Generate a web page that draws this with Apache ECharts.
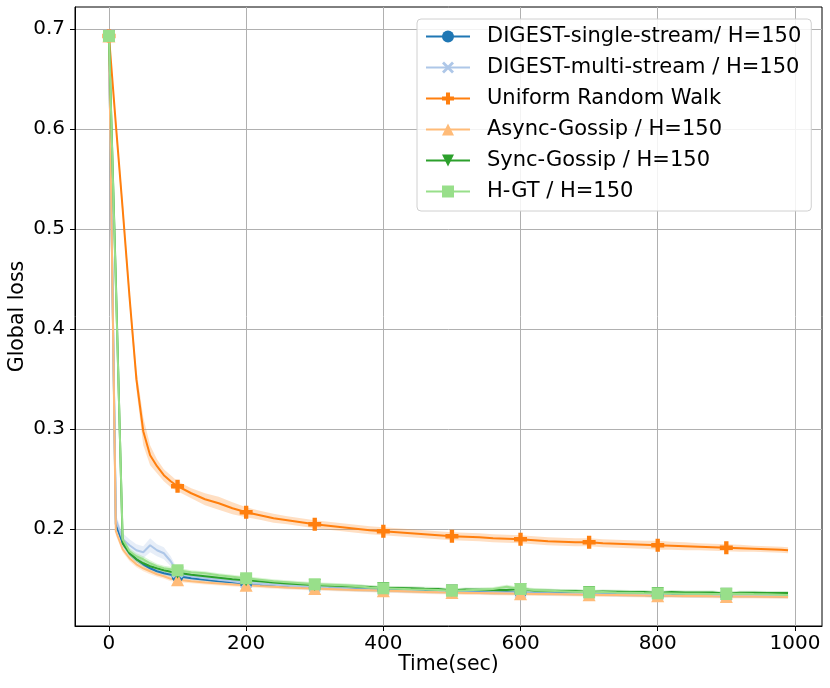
<!DOCTYPE html>
<html>
<head>
<meta charset="utf-8">
<script src="https://cdn.jsdelivr.net/npm/echarts@6/dist/echarts.min.js"></script>
<style>
  html, body { margin: 0; padding: 0; background: #fff; }
  #chart { width: 830px; height: 688px; }
</style>
</head>
<body>
<div id="chart"></div>
<script>
// 时间轴 (sec)
const times = [0, 10, 20, 30, 40, 50, 60, 70, 80, 90, 100,
  120, 140, 160, 180, 200, 220, 240, 260, 280, 300,
  320, 340, 360, 380, 400, 420, 440, 460, 480, 500,
  520, 540, 560, 580, 600, 620, 640, 660, 680, 700,
  720, 740, 760, 780, 800, 820, 840, 860, 880, 900,
  920, 940, 960, 980, 990];

const singleStream = [0.693, 0.205, 0.186, 0.176, 0.170, 0.165, 0.161, 0.158, 0.156, 0.1545, 0.153,
  0.151, 0.1495, 0.148, 0.147, 0.1455, 0.1445, 0.1435, 0.1425, 0.142, 0.1415,
  0.141, 0.1405, 0.140, 0.1396, 0.1392, 0.139, 0.1386, 0.1383, 0.138, 0.1378,
  0.1375, 0.1372, 0.1365, 0.1368, 0.1366, 0.1362, 0.1358, 0.136, 0.1356, 0.1355,
  0.1352, 0.1348, 0.1346, 0.1344, 0.1338, 0.1342, 0.1337, 0.1335, 0.1338, 0.1334,
  0.1333, 0.1334, 0.1332, 0.1331, 0.133];

const multiStream = [0.693, 0.210, 0.190, 0.184, 0.179, 0.177, 0.184, 0.179, 0.176, 0.168, 0.157,
  0.153, 0.151, 0.1495, 0.148, 0.146, 0.1455, 0.1445, 0.1435, 0.1425, 0.142,
  0.1412, 0.1405, 0.1398, 0.1393, 0.139, 0.1386, 0.1382, 0.1378, 0.1375, 0.1372,
  0.137, 0.1368, 0.1366, 0.1364, 0.1362, 0.136, 0.1358, 0.1356, 0.1354, 0.1352,
  0.135, 0.1348, 0.1346, 0.1344, 0.1342, 0.134, 0.1339, 0.1338, 0.1337, 0.1336,
  0.1335, 0.1334, 0.1333, 0.1332, 0.1331];

const randomWalk = [0.693, 0.605, 0.520, 0.432, 0.350, 0.298, 0.274, 0.263, 0.254, 0.248, 0.243,
  0.236, 0.230, 0.226, 0.221, 0.217, 0.214, 0.211, 0.209, 0.207, 0.205,
  0.2035, 0.202, 0.2005, 0.199, 0.198, 0.197, 0.196, 0.195, 0.194, 0.193,
  0.1925, 0.192, 0.191, 0.1905, 0.190, 0.189, 0.188, 0.1875, 0.187, 0.187,
  0.186, 0.1855, 0.185, 0.1845, 0.184, 0.1835, 0.183, 0.1825, 0.182, 0.1815,
  0.181, 0.1805, 0.180, 0.1795, 0.179];

const asyncGossip = [0.693, 0.198, 0.180, 0.171, 0.165, 0.161, 0.158, 0.155, 0.153, 0.1505, 0.1495,
  0.148, 0.1468, 0.1458, 0.1448, 0.144, 0.1432, 0.1425, 0.1418, 0.1412, 0.1408,
  0.1403, 0.1398, 0.1394, 0.139, 0.1386, 0.1382, 0.1378, 0.1374, 0.137, 0.1367,
  0.1364, 0.1362, 0.136, 0.1358, 0.1356, 0.1354, 0.1352, 0.135, 0.1348, 0.1346,
  0.1344, 0.1342, 0.134, 0.1338, 0.1336, 0.1335, 0.1333, 0.1332, 0.133, 0.1329,
  0.1328, 0.1327, 0.1326, 0.1325, 0.1324];

const syncGossip = [0.693, 0.450, 0.186, 0.176, 0.170, 0.166, 0.163, 0.161, 0.159, 0.1575, 0.1565,
  0.1545, 0.153, 0.1515, 0.150, 0.149, 0.148, 0.1468, 0.1458, 0.145, 0.1443,
  0.1437, 0.1432, 0.1427, 0.1422, 0.1412, 0.1413, 0.141, 0.1405, 0.1402, 0.1388,
  0.1398, 0.1396, 0.1394, 0.1392, 0.1402, 0.1388, 0.1386, 0.1384, 0.1382, 0.1372,
  0.1378, 0.1376, 0.1374, 0.1372, 0.1363, 0.1372, 0.1368, 0.1368, 0.1367, 0.1356,
  0.1366, 0.1365, 0.1364, 0.1364, 0.1363];

const hgt = [0.693, 0.445, 0.190, 0.178, 0.173, 0.170, 0.166, 0.163, 0.161, 0.160, 0.159,
  0.157, 0.156, 0.154, 0.1525, 0.151, 0.1495, 0.148, 0.147, 0.146, 0.145,
  0.1445, 0.144, 0.1432, 0.1418, 0.141, 0.1405, 0.140, 0.1398, 0.1392, 0.1386,
  0.139, 0.1395, 0.1402, 0.1425, 0.1403, 0.1392, 0.1385, 0.138, 0.1375, 0.137,
  0.1372, 0.1368, 0.1365, 0.1362, 0.136, 0.1358, 0.1356, 0.1355, 0.1354, 0.1353,
  0.1355, 0.1352, 0.135, 0.1346, 0.1343];

// 阴影带的半宽 (std)
const randomWalkSpread = [0.001, 0.006, 0.008, 0.008, 0.010, 0.014, 0.010, 0.007, 0.006, 0.006, 0.005,
  0.005, 0.006, 0.0065, 0.006, 0.005, 0.0045, 0.0045, 0.004, 0.004, 0.004,
  0.004, 0.004, 0.004, 0.004, 0.004, 0.004, 0.004, 0.004, 0.004, 0.004,
  0.004, 0.004, 0.004, 0.004, 0.004, 0.004, 0.004, 0.004, 0.004, 0.004,
  0.004, 0.004, 0.004, 0.004, 0.0045, 0.004, 0.004, 0.0035, 0.0035, 0.0035,
  0.0035, 0.003, 0.003, 0.003, 0.003];

const multiStreamSpread = [0, 0.005, 0.006, 0.006, 0.006, 0.006, 0.007, 0.006, 0.006, 0.005, 0.003,
  0.002, 0.002, 0.002, 0.002, 0.002, 0.002, 0.002, 0.002, 0.002, 0.002,
  0.002, 0.002, 0.002, 0.002, 0.002, 0.002, 0.002, 0.002, 0.002, 0.002,
  0.002, 0.002, 0.002, 0.002, 0.002, 0.002, 0.002, 0.002, 0.002, 0.002,
  0.002, 0.002, 0.002, 0.002, 0.002, 0.002, 0.002, 0.002, 0.002, 0.002,
  0.002, 0.002, 0.002, 0.002, 0.002];

const clusterSpread = [0.001, 0.004, 0.003, 0.003, 0.003, 0.003, 0.003, 0.0025, 0.0025, 0.0025, 0.0025,
  0.002, 0.002, 0.002, 0.002, 0.002, 0.002, 0.002, 0.002, 0.002, 0.002,
  0.002, 0.002, 0.002, 0.002, 0.002, 0.002, 0.002, 0.002, 0.002, 0.002,
  0.002, 0.002, 0.002, 0.002, 0.002, 0.002, 0.002, 0.002, 0.002, 0.002,
  0.002, 0.002, 0.002, 0.002, 0.002, 0.002, 0.002, 0.002, 0.002, 0.002,
  0.002, 0.002, 0.002, 0.002, 0.002];

const xTicks = [0, 200, 400, 600, 800, 1000];
const yTicks = [0.2, 0.3, 0.4, 0.5, 0.6, 0.7];

const FONT = 'DejaVu Sans';
const plusPath = 'path://M1,0H2V1H3V2H2V3H1V2H0V1H1Z';
const xPath = 'path://M0,1L1,0L3,2L5,0L6,1L4,3L6,5L5,6L3,4L1,6L0,5L2,3Z';

function bandSeries(values, spread, color, alpha) {
  return {
    type: 'custom',
    silent: true,
    z: 1,
    data: [[times[0], values[0]]],
    renderItem: function (params, api) {
      let pts = [];
      for (let i = 0; i < times.length; i++) pts.push(api.coord([times[i], values[i] + spread[i]]));
      for (let i = times.length - 1; i >= 0; i--) pts.push(api.coord([times[i], values[i] - spread[i]]));
      return { type: 'polygon', shape: { points: pts }, style: { fill: color, opacity: alpha } };
    }
  };
}

function lineSeries(name, values, color, symbol, size, rotate) {
  return {
    name: name,
    type: 'line',
    z: 2,
    data: times.map((t, i) => [t, values[i]]),
    symbol: symbol,
    symbolRotate: rotate || 0,
    symbolSize: v => (v[0] % 100 === 0 ? size : 0),
    showAllSymbol: true,
    lineStyle: { width: 2, color: color },
    itemStyle: { color: color },
    emphasis: { disabled: true }
  };
}

var chartDom = document.getElementById('chart');
var myChart = echarts.init(chartDom);

var option = {
  animation: false,
  backgroundColor: '#fff',
  textStyle: { fontFamily: FONT },
  grid: {
    left: 75, right: 8, top: 7, bottom: 62,
    containLabel: false, outerBoundsMode: 'none',
    show: true, borderColor: '#000', borderWidth: 1
  },
  legend: {
    orient: 'vertical',
    left: 417,
    top: 19,
    padding: [7, 10, 9, 8],
    itemWidth: 44,
    itemHeight: 15,
    itemGap: 10,
    backgroundColor: 'rgba(255,255,255,0.85)',
    borderColor: '#d0d0d0',
    borderWidth: 1,
    borderRadius: 4,
    textStyle: { fontFamily: FONT, fontSize: 21, lineHeight: 21, color: '#000', padding: [0, 0, 0, 12] },
    data: ['DIGEST-single-stream/ H=150', 'DIGEST-multi-stream / H=150', 'Uniform Random Walk',
      'Async-Gossip / H=150', 'Sync-Gossip / H=150', 'H-GT / H=150']
  },
  xAxis: {
    type: 'value',
    min: -49.5,
    max: 1039.5,
    name: 'Time(sec)',
    nameLocation: 'middle',
    nameGap: 28,
    nameMoveOverlap: false,
    nameTextStyle: { fontFamily: FONT, fontSize: 20.5, color: '#000' },
    axisLine: { onZero: false, lineStyle: { color: '#000', width: 1 } },
    axisTick: { customValues: xTicks, length: 5, lineStyle: { color: '#000' } },
    axisLabel: { customValues: xTicks, fontFamily: FONT, fontSize: 20, color: '#000', margin: 8,
      formatter: v => String(v) },
    splitLine: { show: true, lineStyle: { color: '#b0b0b0', width: 1 } }
  },
  yAxis: {
    type: 'value',
    min: 0.1033,
    max: 0.722,
    name: 'Global loss',
    nameLocation: 'middle',
    nameGap: 47,
    nameMoveOverlap: false,
    nameTextStyle: { fontFamily: FONT, fontSize: 20.5, color: '#000' },
    axisLine: { show: true, onZero: false, lineStyle: { color: '#000', width: 1 } },
    axisTick: { show: true, customValues: yTicks, length: 5, lineStyle: { color: '#000' } },
    axisLabel: { customValues: yTicks, fontFamily: FONT, fontSize: 20, color: '#000', margin: 10,
      formatter: v => v.toFixed(1) },
    splitLine: { show: true, lineStyle: { color: '#b0b0b0', width: 1 } }
  },
  series: [
    bandSeries(singleStream, clusterSpread, '#1f77b4', 0.2),
    bandSeries(multiStream, multiStreamSpread, '#aec7e8', 0.3),
    bandSeries(randomWalk, randomWalkSpread, '#ff7f0e', 0.25),
    bandSeries(asyncGossip, clusterSpread, '#ffbb78', 0.3),
    bandSeries(syncGossip, clusterSpread, '#2ca02c', 0.2),
    bandSeries(hgt, clusterSpread, '#98df8a', 0.35),
    lineSeries('DIGEST-single-stream/ H=150', singleStream, '#1f77b4', 'circle', 12),
    lineSeries('DIGEST-multi-stream / H=150', multiStream, '#aec7e8', xPath, 12),
    lineSeries('Uniform Random Walk', randomWalk, '#ff7f0e', plusPath, 13),
    lineSeries('Async-Gossip / H=150', asyncGossip, '#ffbb78', 'triangle', 13),
    lineSeries('Sync-Gossip / H=150', syncGossip, '#2ca02c', 'triangle', 12, 180),
    lineSeries('H-GT / H=150', hgt, '#98df8a', 'rect', 12)
  ]
};

option && myChart.setOption(option);
</script>
</body>
</html>
